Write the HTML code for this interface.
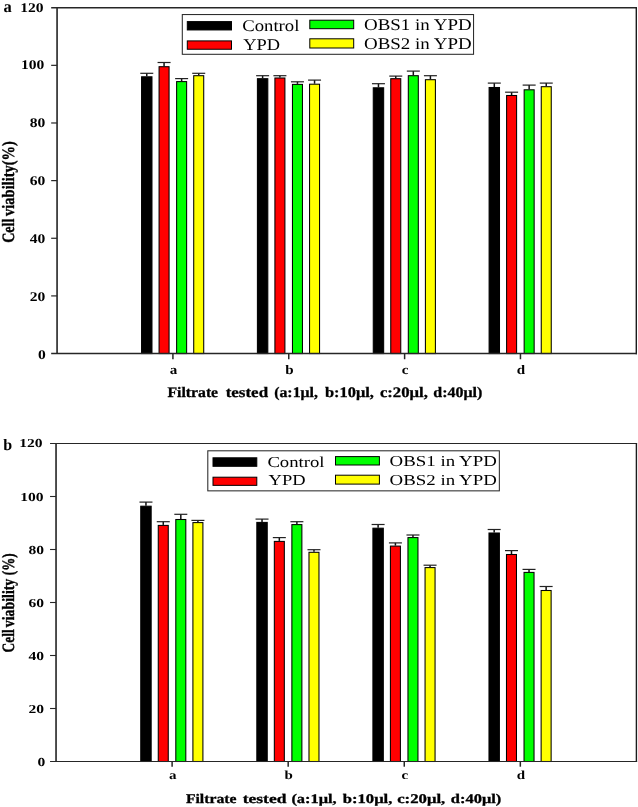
<!DOCTYPE html>
<html><head><meta charset="utf-8">
<title>Cell viability</title>
<style>
html,body{margin:0;padding:0;background:#fff;}
svg{display:block;will-change:transform;}
text{fill:#000;text-rendering:geometricPrecision;}
.b{font-family:"Liberation Serif",serif;font-weight:bold;}
.k{stroke:#000;stroke-width:0.3px;}
.r{font-family:"Liberation Serif",serif;font-weight:normal;}
</style></head><body>
<svg width="638" height="807" viewBox="0 0 638 807">
<rect width="638" height="807" fill="#fff"/>
<line x1="51.17" y1="7.7" x2="637" y2="7.7" stroke="#262626" stroke-width="1.4"/>
<line x1="636.3" y1="7.7" x2="636.3" y2="354.25" stroke="#1c1c1c" stroke-width="1.4"/>
<line x1="57.07" y1="7.7" x2="57.07" y2="353.55" stroke="#303030" stroke-width="1.7"/>
<text x="45.75" y="358.65" text-anchor="end" class="b" font-size="13.3" transform="translate(45.75,0) scale(1.17,1) translate(-45.75,0)">0</text>
<line x1="51.17" y1="295.91" x2="57.07" y2="295.91" stroke="#262626" stroke-width="1.2"/>
<text x="45.25" y="300.61" text-anchor="end" class="b" font-size="13.3" transform="translate(45.25,0) scale(1.17,1) translate(-45.25,0)">20</text>
<line x1="51.17" y1="238.27" x2="57.07" y2="238.27" stroke="#262626" stroke-width="1.2"/>
<text x="45.25" y="242.87" text-anchor="end" class="b" font-size="13.3" transform="translate(45.25,0) scale(1.17,1) translate(-45.25,0)">40</text>
<line x1="51.17" y1="180.62" x2="57.07" y2="180.62" stroke="#262626" stroke-width="1.2"/>
<text x="45.35" y="185.12" text-anchor="end" class="b" font-size="13.3" transform="translate(45.35,0) scale(1.17,1) translate(-45.35,0)">60</text>
<line x1="51.17" y1="122.98" x2="57.07" y2="122.98" stroke="#262626" stroke-width="1.2"/>
<text x="45.25" y="127.28" text-anchor="end" class="b" font-size="13.3" transform="translate(45.25,0) scale(1.17,1) translate(-45.25,0)">80</text>
<line x1="51.17" y1="65.34" x2="57.07" y2="65.34" stroke="#262626" stroke-width="1.2"/>
<text x="44.35" y="69.49" text-anchor="end" class="b" font-size="13.3" transform="translate(44.35,0) scale(1.17,1) translate(-44.35,0)">100</text>
<text x="43.65" y="11.5" text-anchor="end" class="b" font-size="13.3" transform="translate(43.65,0) scale(1.17,1) translate(-43.65,0)">120</text>
<line x1="172.92" y1="353.55" x2="172.92" y2="359.25" stroke="#262626" stroke-width="1.5"/>
<text x="173.52" y="373.55" text-anchor="middle" class="b" font-size="13.1" transform="translate(173.52,0) scale(1.15,1) translate(-173.52,0)">a</text>
<line x1="288.76" y1="353.55" x2="288.76" y2="359.25" stroke="#262626" stroke-width="1.5"/>
<text x="289.36" y="373.55" text-anchor="middle" class="b" font-size="13.1" transform="translate(289.36,0) scale(1.15,1) translate(-289.36,0)">b</text>
<line x1="404.61" y1="353.55" x2="404.61" y2="359.25" stroke="#262626" stroke-width="1.5"/>
<text x="405.21" y="373.55" text-anchor="middle" class="b" font-size="13.1" transform="translate(405.21,0) scale(1.15,1) translate(-405.21,0)">c</text>
<line x1="520.45" y1="353.55" x2="520.45" y2="359.25" stroke="#262626" stroke-width="1.5"/>
<text x="521.05" y="373.55" text-anchor="middle" class="b" font-size="13.1" transform="translate(521.05,0) scale(1.15,1) translate(-521.05,0)">d</text>
<line x1="146.77" y1="73.3" x2="146.77" y2="76.3" stroke="#111" stroke-width="1.5"/>
<line x1="140.27" y1="73.3" x2="153.27" y2="73.3" stroke="#222" stroke-width="1.2"/>
<rect x="141.57" y="76.8" width="10.4" height="276.75" fill="#000000" stroke="#000" stroke-width="1.05"/>
<line x1="164.07" y1="62.5" x2="164.07" y2="66.2" stroke="#111" stroke-width="1.5"/>
<line x1="157.57" y1="62.5" x2="170.57" y2="62.5" stroke="#222" stroke-width="1.2"/>
<rect x="159.07" y="66.7" width="10" height="286.85" fill="#ff0000" stroke="#000" stroke-width="1.05"/>
<line x1="181.62" y1="78.6" x2="181.62" y2="81.1" stroke="#111" stroke-width="1.5"/>
<line x1="175.12" y1="78.6" x2="188.12" y2="78.6" stroke="#222" stroke-width="1.2"/>
<rect x="176.62" y="81.6" width="10" height="271.95" fill="#00ff00" stroke="#000" stroke-width="1.05"/>
<line x1="198.72" y1="73.3" x2="198.72" y2="75.2" stroke="#111" stroke-width="1.5"/>
<line x1="192.22" y1="73.3" x2="205.22" y2="73.3" stroke="#222" stroke-width="1.2"/>
<rect x="193.72" y="75.7" width="10" height="277.85" fill="#ffff00" stroke="#000" stroke-width="1.05"/>
<line x1="262.61" y1="75.7" x2="262.61" y2="78.2" stroke="#111" stroke-width="1.5"/>
<line x1="256.11" y1="75.7" x2="269.11" y2="75.7" stroke="#222" stroke-width="1.2"/>
<rect x="257.41" y="78.7" width="10.4" height="274.85" fill="#000000" stroke="#000" stroke-width="1.05"/>
<line x1="279.91" y1="75.7" x2="279.91" y2="77.5" stroke="#111" stroke-width="1.5"/>
<line x1="273.41" y1="75.7" x2="286.41" y2="75.7" stroke="#222" stroke-width="1.2"/>
<rect x="274.91" y="78" width="10" height="275.55" fill="#ff0000" stroke="#000" stroke-width="1.05"/>
<line x1="297.46" y1="81.8" x2="297.46" y2="83.9" stroke="#111" stroke-width="1.5"/>
<line x1="290.96" y1="81.8" x2="303.96" y2="81.8" stroke="#222" stroke-width="1.2"/>
<rect x="292.46" y="84.4" width="10" height="269.15" fill="#00ff00" stroke="#000" stroke-width="1.05"/>
<line x1="314.56" y1="80.1" x2="314.56" y2="83.7" stroke="#111" stroke-width="1.5"/>
<line x1="308.06" y1="80.1" x2="321.06" y2="80.1" stroke="#222" stroke-width="1.2"/>
<rect x="309.56" y="84.2" width="10" height="269.35" fill="#ffff00" stroke="#000" stroke-width="1.05"/>
<line x1="378.46" y1="83.7" x2="378.46" y2="87.3" stroke="#111" stroke-width="1.5"/>
<line x1="371.96" y1="83.7" x2="384.96" y2="83.7" stroke="#222" stroke-width="1.2"/>
<rect x="373.26" y="87.8" width="10.4" height="265.75" fill="#000000" stroke="#000" stroke-width="1.05"/>
<line x1="395.76" y1="76.1" x2="395.76" y2="78.2" stroke="#111" stroke-width="1.5"/>
<line x1="389.26" y1="76.1" x2="402.26" y2="76.1" stroke="#222" stroke-width="1.2"/>
<rect x="390.76" y="78.7" width="10" height="274.85" fill="#ff0000" stroke="#000" stroke-width="1.05"/>
<line x1="413.31" y1="71.1" x2="413.31" y2="75.2" stroke="#111" stroke-width="1.5"/>
<line x1="406.81" y1="71.1" x2="419.81" y2="71.1" stroke="#222" stroke-width="1.2"/>
<rect x="408.31" y="75.7" width="10" height="277.85" fill="#00ff00" stroke="#000" stroke-width="1.05"/>
<line x1="430.41" y1="75.7" x2="430.41" y2="79.2" stroke="#111" stroke-width="1.5"/>
<line x1="423.91" y1="75.7" x2="436.91" y2="75.7" stroke="#222" stroke-width="1.2"/>
<rect x="425.41" y="79.7" width="10" height="273.85" fill="#ffff00" stroke="#000" stroke-width="1.05"/>
<line x1="494.3" y1="83.1" x2="494.3" y2="87" stroke="#111" stroke-width="1.5"/>
<line x1="487.8" y1="83.1" x2="500.8" y2="83.1" stroke="#222" stroke-width="1.2"/>
<rect x="489.1" y="87.5" width="10.4" height="266.05" fill="#000000" stroke="#000" stroke-width="1.05"/>
<line x1="511.6" y1="92.2" x2="511.6" y2="95" stroke="#111" stroke-width="1.5"/>
<line x1="505.1" y1="92.2" x2="518.1" y2="92.2" stroke="#222" stroke-width="1.2"/>
<rect x="506.6" y="95.5" width="10" height="258.05" fill="#ff0000" stroke="#000" stroke-width="1.05"/>
<line x1="529.15" y1="85.1" x2="529.15" y2="89.3" stroke="#111" stroke-width="1.5"/>
<line x1="522.65" y1="85.1" x2="535.65" y2="85.1" stroke="#222" stroke-width="1.2"/>
<rect x="524.15" y="89.8" width="10" height="263.75" fill="#00ff00" stroke="#000" stroke-width="1.05"/>
<line x1="546.25" y1="83.1" x2="546.25" y2="86.2" stroke="#111" stroke-width="1.5"/>
<line x1="539.75" y1="83.1" x2="552.75" y2="83.1" stroke="#222" stroke-width="1.2"/>
<rect x="541.25" y="86.7" width="10" height="266.85" fill="#ffff00" stroke="#000" stroke-width="1.05"/>
<line x1="51.17" y1="353.55" x2="637" y2="353.55" stroke="#262626" stroke-width="1.4"/>
<rect x="182.3" y="14.55" width="291.25" height="39.75" fill="#fff" stroke="#2a2a2a" stroke-width="1.05"/>
<rect x="187.3" y="21.6" width="44.2" height="8.35" fill="#000" stroke="#000" stroke-width="1"/>
<rect x="187.3" y="40.9" width="44.2" height="8.35" fill="#f00" stroke="#000" stroke-width="1"/>
<rect x="309.8" y="20.2" width="43.9" height="8.5" fill="#0f0" stroke="#000" stroke-width="1"/>
<rect x="309.8" y="38.8" width="43.9" height="9.2" fill="#ff0" stroke="#000" stroke-width="1"/>
<text x="242.2" y="31.2" class="r" font-size="16.3" textLength="57.2" lengthAdjust="spacingAndGlyphs">Control</text>
<text x="243.2" y="49.6" class="r" font-size="16.3" textLength="36.8" lengthAdjust="spacingAndGlyphs">YPD</text>
<text x="364.0" y="29.7" class="r" font-size="16.3" textLength="107.8" lengthAdjust="spacingAndGlyphs">OBS1 in YPD</text>
<text x="364.0" y="48.75" class="r" font-size="16.3" textLength="107.8" lengthAdjust="spacingAndGlyphs">OBS2 in YPD</text>
<text class="b k" font-size="14.1" textLength="24.1" lengthAdjust="spacingAndGlyphs" transform="translate(14.0,242.8) rotate(-90) scale(1,1.23)">Cell</text>
<text class="b k" font-size="14.1" textLength="74.8" lengthAdjust="spacingAndGlyphs" transform="translate(14.0,215.9) rotate(-90) scale(1,1.23)">viability(%)</text>
<text x="167.5" y="397.1" class="b k" font-size="14.6" textLength="50.6" lengthAdjust="spacingAndGlyphs">Filtrate</text>
<text x="225.7" y="397.1" class="b k" font-size="14.6" textLength="42.4" lengthAdjust="spacingAndGlyphs">tested</text>
<text x="274.2" y="397.1" class="b k" font-size="14.6" textLength="43.7" lengthAdjust="spacingAndGlyphs">(a:1μl,</text>
<text x="325" y="397.1" class="b k" font-size="14.6" textLength="48.9" lengthAdjust="spacingAndGlyphs">b:10μl,</text>
<text x="379.9" y="397.1" class="b k" font-size="14.6" textLength="48" lengthAdjust="spacingAndGlyphs">c:20μl,</text>
<text x="433.3" y="397.1" class="b k" font-size="14.6" textLength="48.9" lengthAdjust="spacingAndGlyphs">d:40μl)</text>
<text x="3.5" y="12.3" class="b" font-size="16.5">a</text>
<line x1="50.04" y1="443.5" x2="637.1" y2="443.5" stroke="#262626" stroke-width="1.2"/>
<line x1="636.4" y1="443.5" x2="636.4" y2="762.1" stroke="#1c1c1c" stroke-width="1.4"/>
<line x1="56.04" y1="443.5" x2="56.04" y2="761.5" stroke="#303030" stroke-width="1.7"/>
<text x="45.35" y="765.7" text-anchor="end" class="b" font-size="12.25" transform="translate(45.35,0) scale(1.27,1) translate(-45.35,0)">0</text>
<line x1="50.04" y1="708.5" x2="56.04" y2="708.5" stroke="#262626" stroke-width="1.1"/>
<text x="44.15" y="713" text-anchor="end" class="b" font-size="12.25" transform="translate(44.15,0) scale(1.27,1) translate(-44.15,0)">20</text>
<line x1="50.04" y1="655.5" x2="56.04" y2="655.5" stroke="#262626" stroke-width="1.1"/>
<text x="44.15" y="660.1" text-anchor="end" class="b" font-size="12.25" transform="translate(44.15,0) scale(1.27,1) translate(-44.15,0)">40</text>
<line x1="50.04" y1="602.5" x2="56.04" y2="602.5" stroke="#262626" stroke-width="1.1"/>
<text x="44.15" y="607.05" text-anchor="end" class="b" font-size="12.25" transform="translate(44.15,0) scale(1.27,1) translate(-44.15,0)">60</text>
<line x1="50.04" y1="549.5" x2="56.04" y2="549.5" stroke="#262626" stroke-width="1.1"/>
<text x="44.15" y="553.85" text-anchor="end" class="b" font-size="12.25" transform="translate(44.15,0) scale(1.27,1) translate(-44.15,0)">80</text>
<line x1="50.04" y1="496.5" x2="56.04" y2="496.5" stroke="#262626" stroke-width="1.1"/>
<text x="43.55" y="500.6" text-anchor="end" class="b" font-size="12.25" transform="translate(43.55,0) scale(1.27,1) translate(-43.55,0)">100</text>
<text x="42.65" y="446.9" text-anchor="end" class="b" font-size="12.25" transform="translate(42.65,0) scale(1.27,1) translate(-42.65,0)">120</text>
<line x1="172.11" y1="761.5" x2="172.11" y2="766.7" stroke="#262626" stroke-width="1.5"/>
<text x="172.71" y="778.5" text-anchor="middle" class="b" font-size="12.2" transform="translate(172.71,0) scale(1.23,1) translate(-172.71,0)">a</text>
<line x1="288.18" y1="761.5" x2="288.18" y2="766.7" stroke="#262626" stroke-width="1.5"/>
<text x="288.78" y="778.5" text-anchor="middle" class="b" font-size="12.2" transform="translate(288.78,0) scale(1.23,1) translate(-288.78,0)">b</text>
<line x1="404.26" y1="761.5" x2="404.26" y2="766.7" stroke="#262626" stroke-width="1.5"/>
<text x="404.86" y="778.5" text-anchor="middle" class="b" font-size="12.2" transform="translate(404.86,0) scale(1.23,1) translate(-404.86,0)">c</text>
<line x1="520.33" y1="761.5" x2="520.33" y2="766.7" stroke="#262626" stroke-width="1.5"/>
<text x="520.93" y="778.5" text-anchor="middle" class="b" font-size="12.2" transform="translate(520.93,0) scale(1.23,1) translate(-520.93,0)">d</text>
<line x1="145.96" y1="502.1" x2="145.96" y2="505.7" stroke="#111" stroke-width="1.5"/>
<line x1="139.46" y1="502.1" x2="152.46" y2="502.1" stroke="#222" stroke-width="1.2"/>
<rect x="140.76" y="506.2" width="10.4" height="255.3" fill="#000000" stroke="#000" stroke-width="1.05"/>
<line x1="163.26" y1="521.7" x2="163.26" y2="524.9" stroke="#111" stroke-width="1.5"/>
<line x1="156.76" y1="521.7" x2="169.76" y2="521.7" stroke="#222" stroke-width="1.2"/>
<rect x="158.26" y="525.4" width="10" height="236.1" fill="#ff0000" stroke="#000" stroke-width="1.05"/>
<line x1="180.81" y1="514.3" x2="180.81" y2="519" stroke="#111" stroke-width="1.5"/>
<line x1="174.31" y1="514.3" x2="187.31" y2="514.3" stroke="#222" stroke-width="1.2"/>
<rect x="175.81" y="519.5" width="10" height="242" fill="#00ff00" stroke="#000" stroke-width="1.05"/>
<line x1="197.91" y1="520.4" x2="197.91" y2="522.1" stroke="#111" stroke-width="1.5"/>
<line x1="191.41" y1="520.4" x2="204.41" y2="520.4" stroke="#222" stroke-width="1.2"/>
<rect x="192.91" y="522.6" width="10" height="238.9" fill="#ffff00" stroke="#000" stroke-width="1.05"/>
<line x1="262.03" y1="519.1" x2="262.03" y2="521.9" stroke="#111" stroke-width="1.5"/>
<line x1="255.53" y1="519.1" x2="268.53" y2="519.1" stroke="#222" stroke-width="1.2"/>
<rect x="256.83" y="522.4" width="10.4" height="239.1" fill="#000000" stroke="#000" stroke-width="1.05"/>
<line x1="279.33" y1="537.6" x2="279.33" y2="540.9" stroke="#111" stroke-width="1.5"/>
<line x1="272.83" y1="537.6" x2="285.83" y2="537.6" stroke="#222" stroke-width="1.2"/>
<rect x="274.33" y="541.4" width="10" height="220.1" fill="#ff0000" stroke="#000" stroke-width="1.05"/>
<line x1="296.88" y1="521.7" x2="296.88" y2="524.1" stroke="#111" stroke-width="1.5"/>
<line x1="290.38" y1="521.7" x2="303.38" y2="521.7" stroke="#222" stroke-width="1.2"/>
<rect x="291.88" y="524.6" width="10" height="236.9" fill="#00ff00" stroke="#000" stroke-width="1.05"/>
<line x1="313.98" y1="549.7" x2="313.98" y2="551.8" stroke="#111" stroke-width="1.5"/>
<line x1="307.48" y1="549.7" x2="320.48" y2="549.7" stroke="#222" stroke-width="1.2"/>
<rect x="308.98" y="552.3" width="10" height="209.2" fill="#ffff00" stroke="#000" stroke-width="1.05"/>
<line x1="378.11" y1="524.5" x2="378.11" y2="527.7" stroke="#111" stroke-width="1.5"/>
<line x1="371.61" y1="524.5" x2="384.61" y2="524.5" stroke="#222" stroke-width="1.2"/>
<rect x="372.91" y="528.2" width="10.4" height="233.3" fill="#000000" stroke="#000" stroke-width="1.05"/>
<line x1="395.41" y1="542.9" x2="395.41" y2="545.6" stroke="#111" stroke-width="1.5"/>
<line x1="388.91" y1="542.9" x2="401.91" y2="542.9" stroke="#222" stroke-width="1.2"/>
<rect x="390.41" y="546.1" width="10" height="215.4" fill="#ff0000" stroke="#000" stroke-width="1.05"/>
<line x1="412.96" y1="535" x2="412.96" y2="537.1" stroke="#111" stroke-width="1.5"/>
<line x1="406.46" y1="535" x2="419.46" y2="535" stroke="#222" stroke-width="1.2"/>
<rect x="407.96" y="537.6" width="10" height="223.9" fill="#00ff00" stroke="#000" stroke-width="1.05"/>
<line x1="430.06" y1="565.2" x2="430.06" y2="567.1" stroke="#111" stroke-width="1.5"/>
<line x1="423.56" y1="565.2" x2="436.56" y2="565.2" stroke="#222" stroke-width="1.2"/>
<rect x="425.06" y="567.6" width="10" height="193.9" fill="#ffff00" stroke="#000" stroke-width="1.05"/>
<line x1="494.18" y1="529.5" x2="494.18" y2="532.5" stroke="#111" stroke-width="1.5"/>
<line x1="487.68" y1="529.5" x2="500.68" y2="529.5" stroke="#222" stroke-width="1.2"/>
<rect x="488.98" y="533" width="10.4" height="228.5" fill="#000000" stroke="#000" stroke-width="1.05"/>
<line x1="511.48" y1="550.6" x2="511.48" y2="554" stroke="#111" stroke-width="1.5"/>
<line x1="504.98" y1="550.6" x2="517.98" y2="550.6" stroke="#222" stroke-width="1.2"/>
<rect x="506.48" y="554.5" width="10" height="207" fill="#ff0000" stroke="#000" stroke-width="1.05"/>
<line x1="529.03" y1="569.4" x2="529.03" y2="571.9" stroke="#111" stroke-width="1.5"/>
<line x1="522.53" y1="569.4" x2="535.53" y2="569.4" stroke="#222" stroke-width="1.2"/>
<rect x="524.03" y="572.4" width="10" height="189.1" fill="#00ff00" stroke="#000" stroke-width="1.05"/>
<line x1="546.13" y1="586.5" x2="546.13" y2="590" stroke="#111" stroke-width="1.5"/>
<line x1="539.63" y1="586.5" x2="552.63" y2="586.5" stroke="#222" stroke-width="1.2"/>
<rect x="541.13" y="590.5" width="10" height="171" fill="#ffff00" stroke="#000" stroke-width="1.05"/>
<line x1="50.04" y1="761.5" x2="637.1" y2="761.5" stroke="#262626" stroke-width="1.2"/>
<rect x="207.8" y="450.8" width="291.55" height="40.05" fill="#fff" stroke="#2a2a2a" stroke-width="1.05"/>
<rect x="213" y="457.8" width="43.8" height="8.5" fill="#000" stroke="#000" stroke-width="1"/>
<rect x="213" y="477.2" width="43.8" height="8.15" fill="#f00" stroke="#000" stroke-width="1"/>
<rect x="335.5" y="456.6" width="43.9" height="8.4" fill="#0f0" stroke="#000" stroke-width="1"/>
<rect x="335.5" y="475.2" width="43.9" height="8.9" fill="#ff0" stroke="#000" stroke-width="1"/>
<text x="267.4" y="467.2" class="r" font-size="15.2" textLength="57.2" lengthAdjust="spacingAndGlyphs">Control</text>
<text x="268.6" y="485.4" class="r" font-size="15.2" textLength="37" lengthAdjust="spacingAndGlyphs">YPD</text>
<text x="389.6" y="465.7" class="r" font-size="15.2" textLength="107.2" lengthAdjust="spacingAndGlyphs">OBS1 in YPD</text>
<text x="389.6" y="484.6" class="r" font-size="15.2" textLength="107.2" lengthAdjust="spacingAndGlyphs">OBS2 in YPD</text>
<text class="b k" font-size="13.3" textLength="23" lengthAdjust="spacingAndGlyphs" transform="translate(13.7,652.4) rotate(-90) scale(1,1.3)">Cell</text>
<text class="b k" font-size="13.3" textLength="48.5" lengthAdjust="spacingAndGlyphs" transform="translate(13.7,627.2) rotate(-90) scale(1,1.3)">viability</text>
<text class="b k" font-size="13.3" textLength="21.7" lengthAdjust="spacingAndGlyphs" transform="translate(13.7,575.2) rotate(-90) scale(1,1.3)">(%)</text>
<text x="185.9" y="802.5" class="b k" font-size="13.2" textLength="50.6" lengthAdjust="spacingAndGlyphs">Filtrate</text>
<text x="242.7" y="802.5" class="b k" font-size="13.2" textLength="43.8" lengthAdjust="spacingAndGlyphs">tested</text>
<text x="291.4" y="802.5" class="b k" font-size="13.2" textLength="45.3" lengthAdjust="spacingAndGlyphs">(a:1μl,</text>
<text x="342.7" y="802.5" class="b k" font-size="13.2" textLength="49.7" lengthAdjust="spacingAndGlyphs">b:10μl,</text>
<text x="397.2" y="802.5" class="b k" font-size="13.2" textLength="48.1" lengthAdjust="spacingAndGlyphs">c:20μl,</text>
<text x="450.8" y="802.5" class="b k" font-size="13.2" textLength="50.5" lengthAdjust="spacingAndGlyphs">d:40μl)</text>
<text x="3.2" y="449.6" class="b" font-size="16.0">b</text>
</svg>
</body></html>
